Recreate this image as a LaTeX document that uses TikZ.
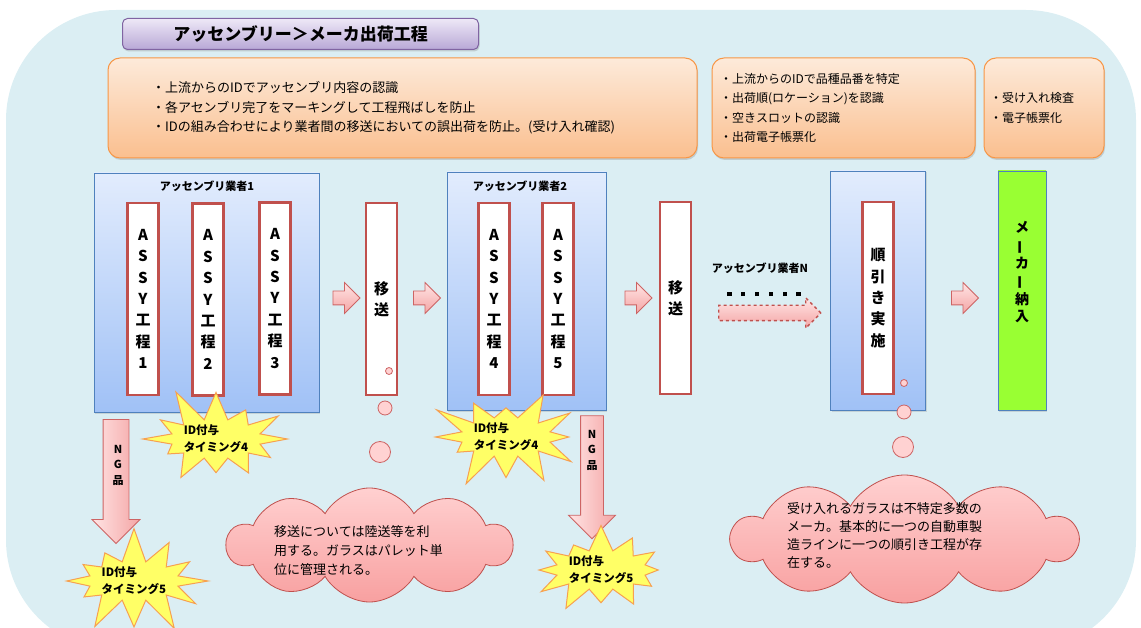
\documentclass[tikz,border=0pt]{standalone}
\usepackage{fontspec}
\setmainfont{Noto Sans CJK JP}
\usetikzlibrary{shapes.symbols,shapes.arrows,shadows}
\definecolor{bg}{RGB}{219,238,243}
\definecolor{orbord}{RGB}{247,150,70}
\definecolor{ortop}{RGB}{253,234,218}
\definecolor{orbot}{RGB}{250,191,143}
\definecolor{purtop}{RGB}{238,232,247}
\definecolor{purbot}{RGB}{184,168,214}
\definecolor{purbord}{RGB}{128,100,162}
\definecolor{bltop}{RGB}{226,236,253}
\definecolor{blbot}{RGB}{160,193,246}
\definecolor{blbord}{RGB}{79,129,189}
\definecolor{redbord}{RGB}{192,80,77}
\definecolor{pinktop}{RGB}{255,228,228}
\definecolor{pinkbot}{RGB}{244,165,165}
\definecolor{pinkbord}{RGB}{205,100,100}
\definecolor{pinkfill}{RGB}{255,210,210}
\definecolor{starfill}{RGB}{255,255,102}
\definecolor{starbord}{RGB}{247,160,80}
\definecolor{mkgreen}{RGB}{153,255,51}
\definecolor{cloudtop}{RGB}{255,208,208}
\definecolor{cloudbot}{RGB}{248,160,160}
\newcommand\fs[2]{\fontsize{#1}{#2}\selectfont}
\newcommand\vbar{\rotatebox[origin=c]{90}{ー}}
\newcommand\sqdot{\rule{4.2pt}{4.2pt}}
\begin{document}
\begin{tikzpicture}[x=1pt,y=-1pt,
  orbox/.style={draw=orbord,line width=1pt,rounded corners=12pt,top color=ortop,bottom color=orbot,
     minimum height=100pt,inner ysep=0pt,align=left,font=\fs{12}{19.5},
     drop shadow={opacity=0.3,shadow xshift=1pt,shadow yshift=-2pt}},
  titlebox/.style={draw=purbord,line width=1pt,rounded corners=5pt,top color=purtop,bottom color=purbot,
     minimum width=356pt,minimum height=31pt,font=\bfseries\fs{17}{20},
     drop shadow={opacity=0.3,shadow xshift=1pt,shadow yshift=-2pt}},
  blbox/.style={draw=blbord,line width=0.8pt,top color=bltop,bottom color=blbot,inner sep=0pt,
     drop shadow={opacity=0.25,shadow xshift=1pt,shadow yshift=-1.5pt}},
  colbox/.style={draw=redbord,line width=2.6pt,fill=white,minimum width=31pt,minimum height=192pt,
     inner sep=0pt,align=center,font=\bfseries\fs{15}{21.4}},
  lbl/.style={font=\bfseries\fs{11}{14},inner sep=0pt},
  parrow/.style={single arrow,draw=pinkbord,line width=0.8pt,top color=pinktop,bottom color=pinkbot,
     minimum height=27pt,inner sep=6.5pt,single arrow head extend=8.5pt},
  ngarrow/.style={single arrow,draw=pinkbord,line width=0.8pt,left color=pinktop,right color=pinkbot,
     rotate=-90,single arrow head extend=11pt},
  bubble/.style={circle,draw=pinkbord,line width=0.8pt,fill=pinkfill,inner sep=0pt},
  starb/.style={starburst,draw=starbord,fill=starfill,line width=1pt,starburst points=12,
     starburst point height=36pt,align=left,font=\bfseries\fs{11.5}{17},inner sep=0pt},
  cloudb/.style={cloud,cloud puffs=10,cloud puff arc=120,draw=redbord,line width=0.8pt,
     top color=cloudtop,bottom color=cloudbot,inner sep=0pt},
  ctext/.style={align=left,font=\fs{13}{19},inner sep=0pt,anchor=west}
]
\useasboundingbox (0,0) rectangle (1141,628);
\clip (0,0) rectangle (1141,628);
\fill[bg,rounded corners=110pt] (6,10) rectangle (1136,650);

% title
\node[titlebox] (title) at (300.5,34) {アッセンブリー＞メーカ出荷工程};

% orange boxes
\node[orbox,font=\fs{13}{19.5},minimum width=589pt,text width=501pt,inner xsep=44pt] (o1) at (402.5,108)
 {・上流からのIDでアッセンブリ内容の認識\\・各アセンブリ完了をマーキングして工程飛ばしを防止\\・IDの組み合わせにより業者間の移送においての誤出荷を防止。(受け入れ確認)};
\node[orbox,minimum width=263pt,text width=247pt,inner xsep=8pt] (o2) at (843.5,108)
 {・上流からのIDで品種品番を特定\\・出荷順(ロケーション)を認識\\・空きスロットの認識\\・出荷電子帳票化};
\node[orbox,minimum width=120pt,text width=108pt,inner xsep=6pt] (o3) at (1044,108)
 {・受け入れ検査\\・電子帳票化};

% blue boxes
\node[blbox,minimum width=225pt,minimum height=239pt] (ba) at (206.5,292.5) {};
\node[blbox,minimum width=159pt,minimum height=238pt] (bb) at (526.5,291) {};
\node[blbox,minimum width=95pt,minimum height=239pt] (bc) at (878,290.5) {};
\node[blbox,fill=mkgreen,top color=mkgreen,bottom color=mkgreen,minimum width=48pt,minimum height=239pt] (mk) at (1022,290.5) {};
\node[lbl,font=\bfseries\fs{14}{17.8},align=center] (mkt) at (1022,272.5) {メ\\\vbar\\カ\\\vbar\\納\\入};

\node[lbl] (la) at (207,186) {アッセンブリ業者1};
\node[lbl] (lb) at (520,186) {アッセンブリ業者2};
\node[lbl] (ln) at (760,268) {アッセンブリ業者N};
\node[lbl] (dots) at (764,294) {\sqdot\hspace{9.6pt}\sqdot\hspace{9.6pt}\sqdot\hspace{9.6pt}\sqdot\hspace{9.6pt}\sqdot\hspace{9.6pt}\sqdot};

% columns
\node[colbox] (c1) at (143,299) {A\\S\\S\\Y\\工\\程\\1};
\node[colbox] (c2) at (208,299.5) {A\\S\\S\\Y\\工\\程\\2};
\node[colbox] (c3) at (275,298.5) {A\\S\\S\\Y\\工\\程\\3};
\node[colbox] (m1) at (381.5,299) {移\\送};
\node[colbox] (c4) at (494,299) {A\\S\\S\\Y\\工\\程\\4};
\node[colbox] (c5) at (558,299) {A\\S\\S\\Y\\工\\程\\5};
\node[colbox] (m2) at (675.5,298) {移\\送};
\node[colbox] (jn) at (878,298) {順\\引\\き\\実\\施};

% block arrows
\node[parrow] (a1) at (343,298) {};
\node[parrow] (a2) at (423.5,298) {};
\node[parrow] (a3) at (635,298) {};
\node[parrow,draw=redbord,dashed,line width=1.3pt,minimum height=102pt,inner sep=7pt,single arrow head extend=7.5pt] (an) at (766,313) {};
\node[parrow] (a4) at (961.5,298) {};

% NG arrows
\node[ngarrow,minimum height=124pt,inner sep=12.5pt] (ng1) at (116,475) {};
\node[lbl,align=center,font=\bfseries\fs{11}{15.5}] (ng1t) at (118,465) {N\\G\\品};
\node[ngarrow,minimum height=123pt,inner sep=11pt,single arrow head extend=12pt] (ng2) at (592,471.5) {};
\node[lbl,align=center,font=\bfseries\fs{11}{15.5}] (ng2t) at (592,450) {N\\G\\品};

% starbursts
\node[starb,minimum width=162pt,minimum height=92pt,random starburst=11] (s1) at (216,439) {ID付与\\タイミング4};
\node[starb,minimum width=147pt,minimum height=84pt,random starburst=23] (s2) at (506,437) {ID付与\\タイミング4};
\node[starb,minimum width=162pt,minimum height=98pt,random starburst=7] (s3) at (134,581) {ID付与\\タイミング5};
\node[starb,minimum width=162pt,minimum height=93pt,random starburst=31] (s4) at (601,570) {ID付与\\タイミング5};

% clouds
\node[cloudb,minimum width=285pt,minimum height=114pt] (cl1) at (369.5,545) {};
\node[ctext] (cl1t) at (274,551) {移送については陸送等を利\\用する。ガラスはパレット単\\位に管理される。};
\node[cloudb,minimum width=345pt,minimum height=128pt] (cl2) at (904.5,539) {};
\node[ctext,font=\fs{13}{18}] (cl2t) at (787,536) {受け入れるガラスは不特定多数の\\メーカ。基本的に一つの自動車製\\造ラインに一つの順引き工程が存\\在する。};

% thought bubbles
\node[bubble,minimum size=7pt] (b11) at (389,371) {};
\node[bubble,minimum size=14pt] (b12) at (385,408) {};
\node[bubble,minimum size=21pt] (b13) at (380,452) {};
\node[bubble,minimum size=7pt] (b21) at (904,383) {};
\node[bubble,minimum size=14pt] (b22) at (904,412) {};
\node[bubble,minimum size=21pt] (b23) at (903,447) {};
\end{tikzpicture}
\end{document}
